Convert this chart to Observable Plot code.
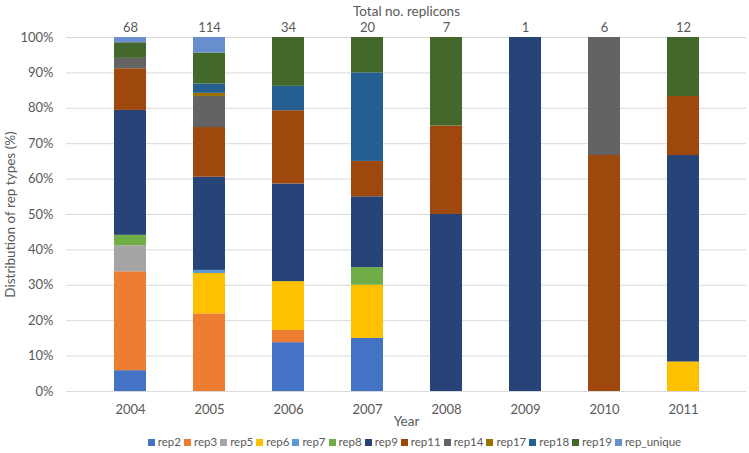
<!DOCTYPE html>
<html>
<head>
<meta charset="utf-8">
<script src="https://cdn.jsdelivr.net/npm/d3@7"></script>
<script src="https://cdn.jsdelivr.net/npm/@observablehq/plot@0.6"></script>
<style>
  html, body { margin: 0; padding: 0; background: #fff; }
  body { width: 749px; height: 453px; overflow: hidden; position: relative; font-family: Lato, "Open Sans", sans-serif; }
  #legend { position: absolute; left: 80px; top: 433px; width: 669px; height: 18px; display: flex; justify-content: center; align-items: center;
            font-family: Lato, "Open Sans", sans-serif; font-size: 11.5px; color: #595959; line-height: 18px; white-space: nowrap; }
  #legend .item { display: inline-flex; align-items: center; margin: 0 1.5px; }
  #legend .sw { display: inline-block; width: 7px; height: 7px; margin-right: 3px; }
</style>
</head>
<body>
<div id="chart"></div>
<div id="legend"></div>
<script>
const years = ["2004", "2005", "2006", "2007", "2008", "2009", "2010", "2011"];
const totals = [68, 114, 34, 20, 7, 1, 6, 12];
const repTypes = ["rep2", "rep3", "rep5", "rep6", "rep7", "rep8", "rep9", "rep11", "rep14", "rep17", "rep18", "rep19", "rep_unique"];
const colors = ["#4472C4", "#ED7D31", "#A5A5A5", "#FFC000", "#5B9BD5", "#70AD47", "#264478", "#9E480E", "#636363", "#997300", "#255E91", "#43682B", "#698ED0"];

// percentages per year (2004..2011)
const rep2      = [5.88, 0, 13.79, 15, 0, 0, 0, 0];
const rep3      = [27.94, 21.93, 3.45, 0, 0, 0, 0, 0];
const rep5      = [7.35, 0, 0, 0, 0, 0, 0, 0];
const rep6      = [0, 11.40, 13.79, 15, 0, 0, 0, 8.33];
const rep7      = [0, 0.88, 0, 0, 0, 0, 0, 0];
const rep8      = [2.94, 0, 0, 5, 0, 0, 0, 0];
const rep9      = [35.29, 26.32, 27.59, 20, 50, 100, 0, 58.33];
const rep11     = [11.76, 14.04, 20.69, 10, 25, 0, 66.67, 16.67];
const rep14     = [2.94, 8.77, 0, 0, 0, 0, 33.33, 0];
const rep17     = [0, 0.88, 0, 0, 0, 0, 0, 0];
const rep18     = [0, 2.63, 6.90, 25, 0, 0, 0, 0];
const rep19     = [4.41, 8.77, 13.79, 10, 25, 0, 0, 16.67];
const rep_unique = [1.47, 4.39, 0, 0, 0, 0, 0, 0];

const yTicks = [0, 10, 20, 30, 40, 50, 60, 70, 80, 90, 100];

const series = {rep2, rep3, rep5, rep6, rep7, rep8, rep9, rep11, rep14, rep17, rep18, rep19, rep_unique};
const rows = [];
repTypes.forEach(r => years.forEach((y, i) => rows.push({year: y, rep: r, value: series[r][i]})));
const totalRows = years.map((y, i) => ({year: y, total: totals[i]}));

const font = "Lato, 'Open Sans', sans-serif";
const fs = 13;
const chart = Plot.plot({
  width: 749,
  height: 433,
  marginLeft: 66,
  marginRight: 3,
  marginTop: 37,
  marginBottom: 42,
  style: {fontFamily: font, fontSize: fs + "px", color: "#595959", background: "#fff"},
  x: {domain: years, padding: 0.6, label: null},
  y: {domain: [0, 100], label: null},
  color: {domain: repTypes, range: colors},
  marks: [
    Plot.gridY(yTicks, {stroke: "#d9d9d9", strokeOpacity: 1, strokeWidth: 1}),
    Plot.barY(rows, {x: "year", y: "value", fill: "rep"}),
    Plot.axisX({tickSize: 0, tickPadding: 13, fill: "#595959", fontSize: fs, label: null}),
    Plot.axisY({ticks: yTicks, tickFormat: d => d + "%", tickSize: 0, tickPadding: 13, fill: "#595959", fontSize: fs, label: null}),
    Plot.text(totalRows, {x: "year", y: () => 100, text: "total", dy: -10, fill: "#595959", fontSize: fs}),
    Plot.text(["Total no. replicons"], {frameAnchor: "top", textAnchor: "middle", dy: -31, fill: "#595959", fontSize: 13.5}),
    Plot.text(["Year"], {frameAnchor: "bottom", textAnchor: "middle", dy: 34, fill: "#595959", fontSize: 13.5}),
    Plot.text(["Distribution of rep types (%)"], {frameAnchor: "left", textAnchor: "middle", dx: -56, rotate: -90, fill: "#595959", fontSize: 13.5})
  ]
});
document.getElementById("chart").appendChild(chart);

const colorScale = chart.scale("color");
const legend = d3.select("#legend");
repTypes.forEach(r => {
  const item = legend.append("span").attr("class", "item");
  item.append("span").attr("class", "sw").style("background", colorScale.apply(r));
  item.append("span").text(r);
});
</script>
</body>
</html>
